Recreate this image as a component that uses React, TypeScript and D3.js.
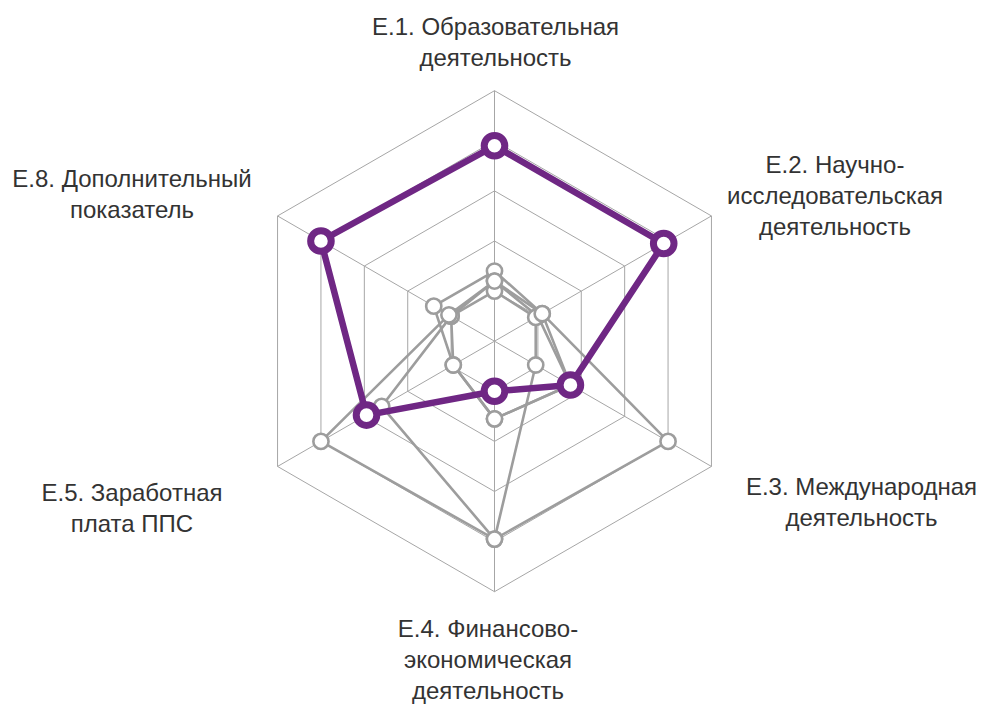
import React from "react";
import * as d3 from "d3";

// ---- data ----
const AXIS_LABELS: string[][] = [
  ["E.1. Образовательная", "деятельность"],
  ["E.2. Научно-", "исследовательская", "деятельность"],
  ["E.3. Международная", "деятельность"],
  ["E.4. Финансово-", "экономическая", "деятельность"],
  ["E.5. Заработная", "плата ППС"],
  ["E.8. Дополнительный", "показатель"],
];
const GRID_TICKS = [20, 40, 60, 80, 100];
const MAIN_SERIES = [78, 78, 35, 20, 59, 80];
const OTHER_A = [28, 22, 35, 31, 19, 28];
const OTHER_B = [24, 20, 35, 31, 19, 20];
const OTHER_C = [20, 19, 19, 79, 52, 20];
const OTHER_D = [24, 22, 80, 79, 80, 21];
const OTHER_SERIES = [OTHER_A, OTHER_B, OTHER_C, OTHER_D];

// ---- layout ----
const W = 982;
const H = 705;
const CX = 494.5;
const CY = 341.2;
const R = 250.5;
const LINE_H = 31.3;
// label block: center x and first baseline y
const LABEL_POS: [number, number][] = [
  [495.5, 34.5],
  [835, 172.5],
  [861.5, 494.5],
  [488, 636.5],
  [132, 500.5],
  [132, 187],
];

const PURPLE = "#6f2784";
const GRAY = "#9d9d9d";
const GRID = "#a6a6a6";

export default function App() {
  const n = AXIS_LABELS.length;
  const r = d3.scaleLinear().domain([0, 100]).range([0, R]);
  const ang = d3
    .scaleLinear()
    .domain([0, n])
    .range([0, 2 * Math.PI]);
  const pt = (i: number, v: number): [number, number] => [
    CX + r(v) * Math.sin(ang(i)),
    CY - r(v) * Math.cos(ang(i)),
  ];
  const radial = d3
    .lineRadial<number>()
    .angle((_d, i) => ang(i))
    .radius((d) => r(d))
    .curve(d3.curveLinearClosed);
  const idx = d3.range(n);

  return (
    <svg
      width={W}
      height={H}
      style={{ position: "absolute", left: 0, top: 0, background: "#fff" }}
    >
      <g>
        {GRID_TICKS.map((t) => (
          <path
            key={t}
            d={radial(idx.map(() => t)) || ""}
            transform={`translate(${CX},${CY})`}
            fill="none"
            stroke={GRID}
            strokeWidth={1}
          />
        ))}
        {idx.map((i) => {
          const [x, y] = pt(i, 100);
          return (
            <line key={i} x1={CX} y1={CY} x2={x} y2={y} stroke={GRID} strokeWidth={1} />
          );
        })}
      </g>
      {OTHER_SERIES.map((s, k) => (
        <g key={k}>
          <path
            d={radial(s) || ""}
            transform={`translate(${CX},${CY})`}
            fill="none"
            stroke={GRAY}
            strokeWidth={2.6}
            strokeLinejoin="round"
          />
        </g>
      ))}
      {OTHER_SERIES.map((s, k) => (
        <g key={"m" + k}>
          {s.map((v, i) => {
            const [x, y] = pt(i, v);
            return (
              <circle key={i} cx={x} cy={y} r={7.6} fill="#fff" stroke={GRAY} strokeWidth={2.6} />
            );
          })}
        </g>
      ))}
      <path
        d={radial(MAIN_SERIES) || ""}
        transform={`translate(${CX},${CY})`}
        fill="none"
        stroke={PURPLE}
        strokeWidth={6.5}
        strokeLinejoin="round"
      />
      {MAIN_SERIES.map((v, i) => {
        const [x, y] = pt(i, v);
        return (
          <circle key={i} cx={x} cy={y} r={10.3} fill="#fff" stroke={PURPLE} strokeWidth={7} />
        );
      })}
      {AXIS_LABELS.map((lines, i) => (
        <text
          key={i}
          x={LABEL_POS[i][0]}
          y={LABEL_POS[i][1]}
          textAnchor="middle"
          fontFamily="'Liberation Sans', Arial, sans-serif"
          fontSize={24}
          fill="#333"
        >
          {lines.map((l, j) => (
            <tspan key={j} x={LABEL_POS[i][0]} y={LABEL_POS[i][1] + j * LINE_H}>
              {l}
            </tspan>
          ))}
        </text>
      ))}
    </svg>
  );
}
